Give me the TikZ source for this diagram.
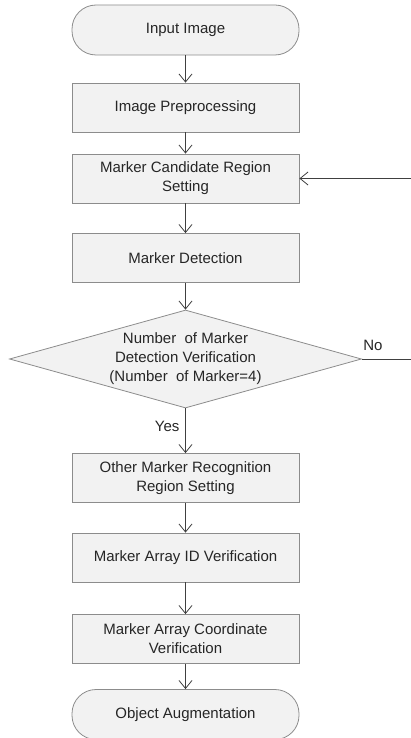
\documentclass[tikz,border=0pt]{standalone}
\usepackage{fontspec}
\setmainfont{Liberation Sans}
\usetikzlibrary{arrows.meta}
\usetikzlibrary{shapes.geometric}
\definecolor{boxfill}{HTML}{F2F2F2}
\definecolor{boxline}{HTML}{8C8C8C}
\definecolor{flowline}{HTML}{404040}
\definecolor{flowtext}{HTML}{262626}
\tikzstyle{terminal}=[draw=boxline,fill=boxfill,line width=0.8pt,rounded corners=24pt,minimum width=227pt,minimum height=50pt,align=center]
\tikzstyle{process}=[draw=boxline,fill=boxfill,line width=0.8pt,minimum width=227pt,minimum height=49pt,align=center]
\tikzstyle{decision}=[draw=boxline,fill=boxfill,line width=0.8pt,diamond,minimum width=352pt,minimum height=98pt,inner sep=0pt]
\tikzstyle{flow}=[-{Straight Barb[length=8pt,width=13pt]},draw=flowline,line width=0.8pt]

\begin{document}
\begin{tikzpicture}[x=1pt,y=-1pt,every node/.style={font=\fontsize{15}{19}\selectfont,text=flowtext}]
  \useasboundingbox (0,0) rectangle (410,738);
  \node[terminal] (in) at (185.5,30) {Input Image};
  \node[process] (pre) at (185.5,107.5) {Image Preprocessing};
  \node[process] (cand) at (185.5,178.5) {Marker Candidate Region\\Setting};
  \node[process] (det) at (185.5,258) {Marker Detection};
  \node[decision] (dec) at (185.5,359) {};
  \node[align=center] (dectext) at (dec) {Number~ of Marker\\Detection Verification\\(Number~ of Marker=4)};
  \node[process] (other) at (185.5,478) {Other Marker Recognition\\Region Setting};
  \node[process] (arrid) at (185.5,557.5) {Marker Array ID Verification};
  \node[process] (arrco) at (185.5,639) {Marker Array Coordinate\\Verification};
  \node[terminal] (out) at (185.5,714.5) {Object Augmentation};

  \draw[flow] (in) -- (pre);
  \draw[flow] (pre) -- (cand);
  \draw[flow] (cand) -- (det);
  \draw[flow] (det) -- (dec.north);
  \draw[flow] (dec.south) -- (other);
  \draw[flow] (other) -- (arrid);
  \draw[flow] (arrid) -- (arrco);
  \draw[flow] (arrco) -- (out);

  % back to candidate region when count fails
  \coordinate (loop) at (413,178.5);
  \draw[flow] (dec.east) -| (loop) -- (cand.east);
  \node (no) at (373,345) {No};
  \node[anchor=east] (yes) at (183,426) {Yes};
\end{tikzpicture}
\end{document}
